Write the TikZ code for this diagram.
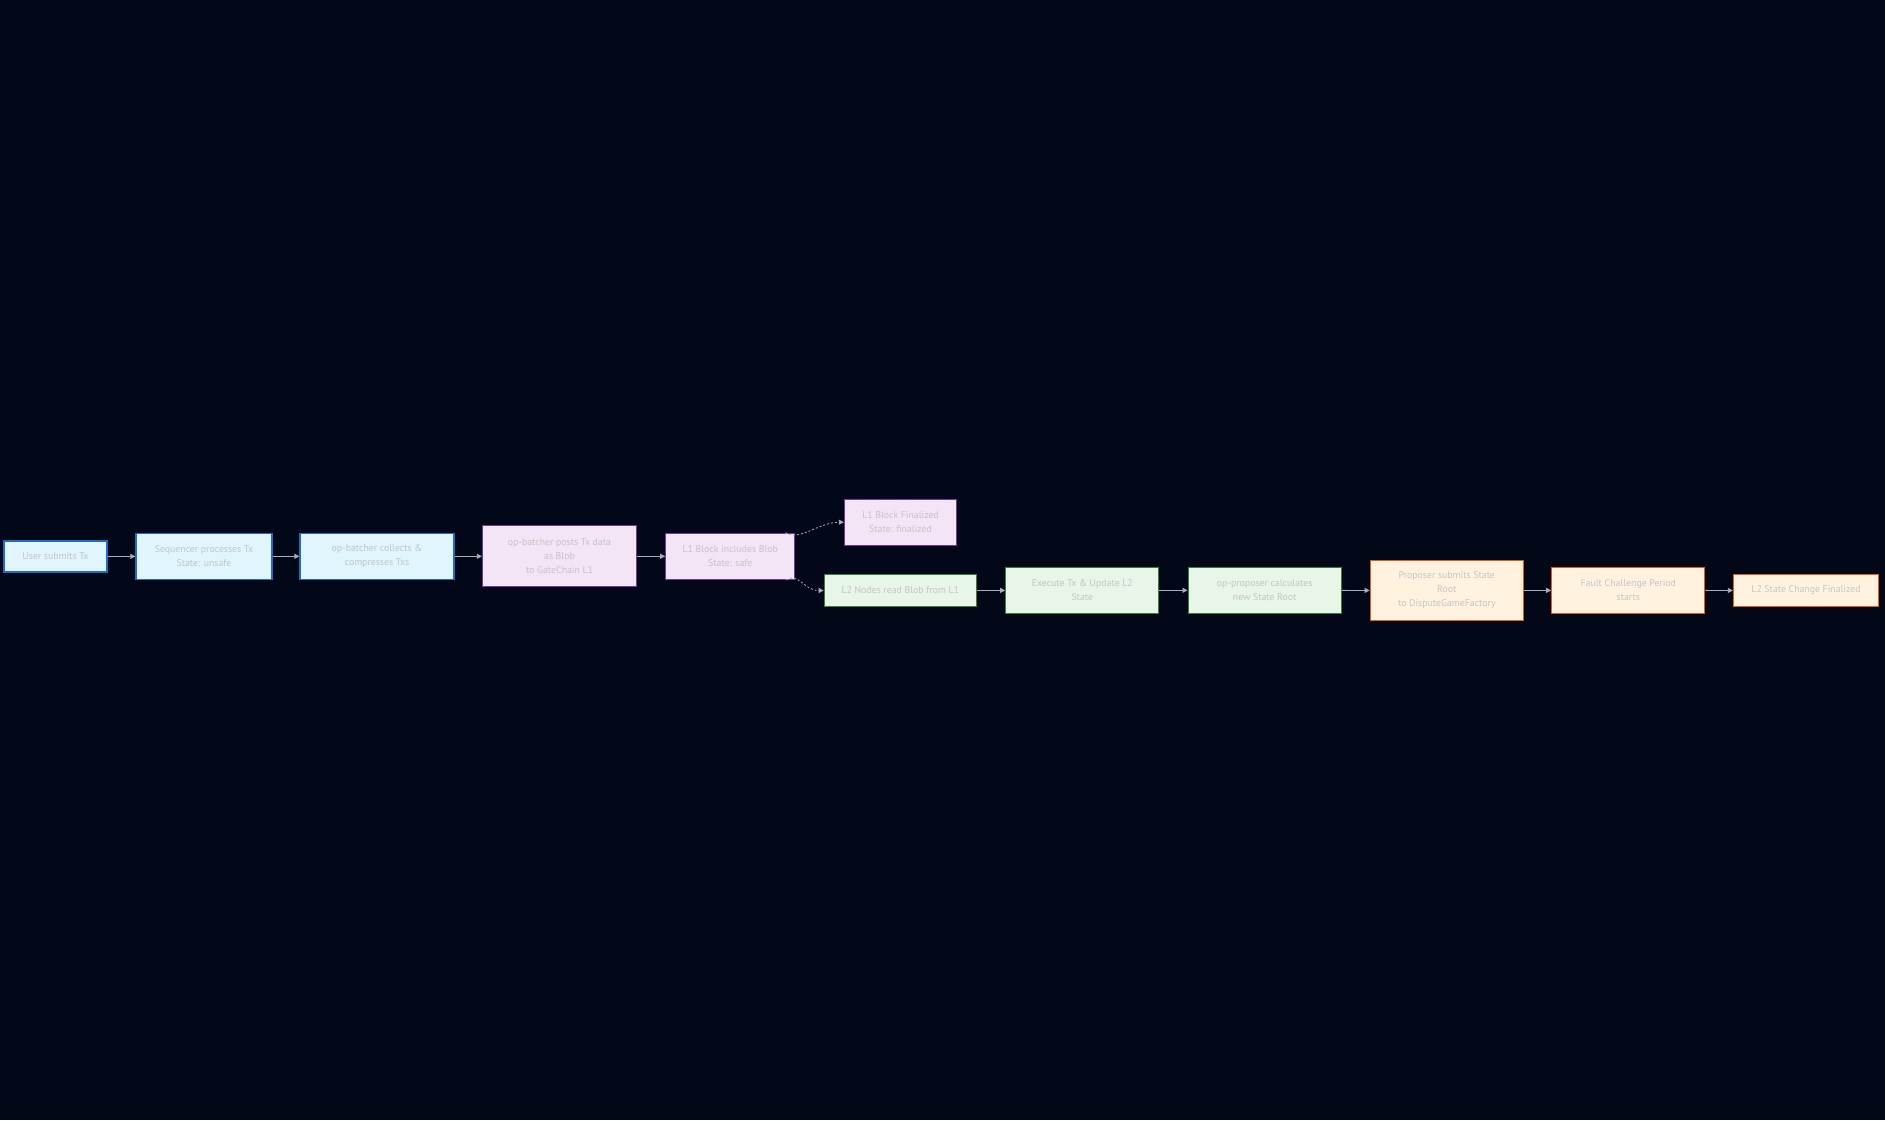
\documentclass[tikz,border=0pt]{standalone}
\usepackage{fontspec}
\setmainfont{PT Sans}
\usetikzlibrary{arrows.meta}
\definecolor{bg}{HTML}{020817}
\definecolor{txt}{HTML}{C4C4C4}
\definecolor{edge}{HTML}{A8ADB8}
\definecolor{bfill}{HTML}{E1F5FE}\definecolor{bline}{HTML}{1E6CC0}
\definecolor{pfill}{HTML}{F3E5F5}\definecolor{pline}{HTML}{7236A0}
\definecolor{gfill}{HTML}{E8F5E9}\definecolor{gline}{HTML}{357F38}
\definecolor{ofill}{HTML}{FFF3E0}\definecolor{oline}{HTML}{E65C12}
\tikzset{
  box/.style={draw, line width=1.3bp, inner sep=0pt, align=center, text=txt,
    font=\fontsize{9.8bp}{14bp}\selectfont},
  bluebox/.style={box, fill=bfill, draw=bline},
  purplebox/.style={box, fill=pfill, draw=pline},
  greenbox/.style={box, fill=gfill, draw=gline},
  orangebox/.style={box, fill=ofill, draw=oline},
  conn/.style={draw=edge, line width=0.8bp, -{Triangle[length=5bp,width=5bp]}},
  dotconn/.style={conn, dash pattern=on 2bp off 2bp}
}
\begin{document}
\begin{tikzpicture}[x=1bp,y=-1bp]
\fill[bg] (0,0) rectangle (1885,1120);
\useasboundingbox (0,0) rectangle (1885,1120);
\node[bluebox, minimum width=103bp, minimum height=31bp] (A) at (55.5,556.5) {User submits Tx};
\node[bluebox, minimum width=136bp, minimum height=46bp] (B) at (204,556.3) {Sequencer processes Tx\\State: unsafe};
\node[bluebox, minimum width=154bp, minimum height=46bp] (C) at (377,556.3) {op-batcher collects \&\\compresses Txs};
\node[purplebox, minimum width=154bp, minimum height=61bp] (D) at (559.5,556.3) {op-batcher posts Tx data\\as Blob\\to GateChain L1};
\node[purplebox, minimum width=129bp, minimum height=46bp] (E) at (730.3,556.3) {L1 Block includes Blob\\State: safe};
\node[purplebox, minimum width=112bp, minimum height=46bp] (F) at (900.5,522.2) {L1 Block Finalized\\State: finalized};
\node[greenbox, minimum width=152bp, minimum height=31.6bp] (G) at (900.3,590.5) {L2 Nodes read Blob from L1};
\node[greenbox, minimum width=153bp, minimum height=46bp] (H) at (1082.3,590.3) {Execute Tx \& Update L2\\State};
\node[greenbox, minimum width=153bp, minimum height=46bp] (I) at (1264.7,590.3) {op-proposer calculates\\new State Root};
\node[orangebox, minimum width=153bp, minimum height=60bp] (J) at (1446.8,590.5) {Proposer submits State\\Root\\to DisputeGameFactory};
\node[orangebox, minimum width=153bp, minimum height=46bp] (K) at (1628.3,590.3) {Fault Challenge Period\\starts};
\node[orangebox, minimum width=145bp, minimum height=32bp] (L) at (1806,590.5) {L2 State Change Finalized};

\draw[conn] (A) -- (B);
\draw[conn] (B) -- (C);
\draw[conn] (C) -- (D);
\draw[conn] (D) -- (E);
\draw[dotconn] ([xshift=-10bp]E.north east) .. controls +(14bp,-9bp) and +(-25bp,0bp) .. (F.west);
\draw[dotconn] ([xshift=-9bp]E.south east) .. controls +(12bp,8bp) and +(-20bp,0bp) .. (G.west);
\draw[conn] (G) -- (H);
\draw[conn] (H) -- (I);
\draw[conn] (I) -- (J);
\draw[conn] (J) -- (K);
\draw[conn] (K) -- (L);
\end{tikzpicture}
\end{document}
